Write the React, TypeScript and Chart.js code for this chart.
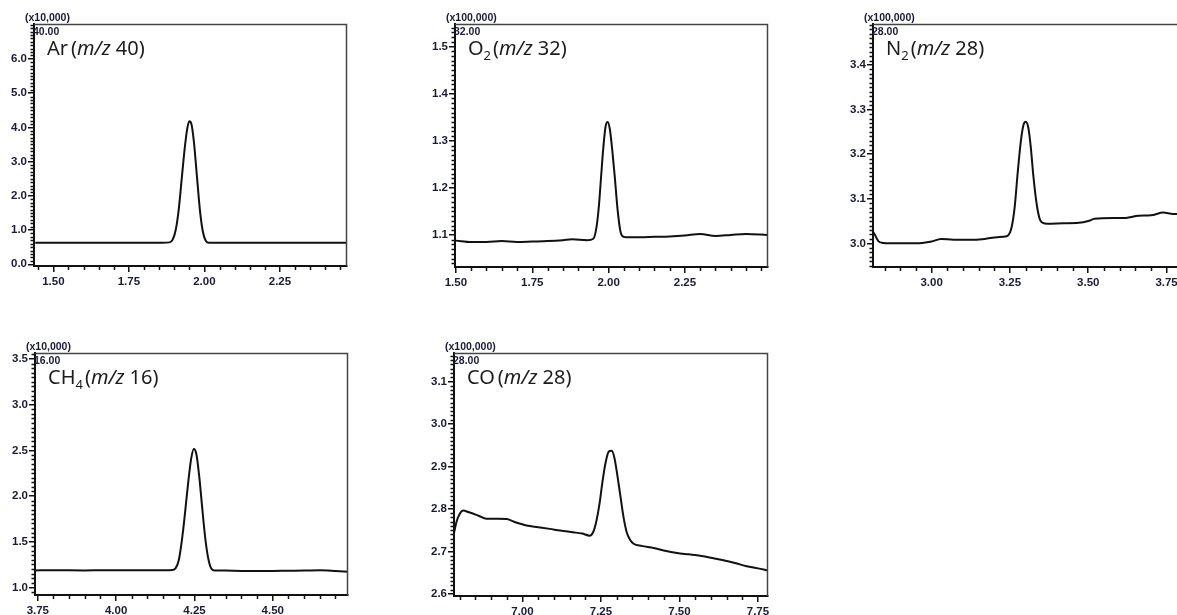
import React, { useEffect, useRef } from "react";
import { Chart, registerables } from "chart.js";

Chart.register(...registerables);

// ---------- DATA ----------
// Ar (m/z 40)
const arTime = [1.44, 1.6, 1.75, 1.86, 1.885, 1.895, 1.905, 1.915, 1.925, 1.935, 1.943, 1.95, 1.957, 1.965, 1.975, 1.985, 1.995, 2.005, 2.015, 2.05, 2.2, 2.35, 2.47];
const arIntensity = [0.63, 0.63, 0.63, 0.63, 0.64, 0.72, 1.0, 1.6, 2.5, 3.4, 3.95, 4.18, 4.1, 3.6, 2.6, 1.6, 0.95, 0.68, 0.63, 0.63, 0.63, 0.63, 0.63];
const arXTicks = [1.5, 1.75, 2.0, 2.25];
const arYTicks = [0, 1, 2, 3, 4, 5, 6];

// O2 (m/z 32)
const o2Time = [1.5, 1.55, 1.6, 1.65, 1.7, 1.75, 1.8, 1.85, 1.88, 1.93, 1.95, 1.96, 1.968, 1.975, 1.982, 1.99, 1.997, 2.004, 2.012, 2.02, 2.03, 2.04, 2.05, 2.065, 2.1, 2.15, 2.2, 2.25, 2.3, 2.35, 2.4, 2.45, 2.52];
const o2Intensity = [1.088, 1.085, 1.085, 1.087, 1.085, 1.086, 1.087, 1.089, 1.091, 1.089, 1.092, 1.115, 1.16, 1.22, 1.28, 1.33, 1.34, 1.325, 1.28, 1.225, 1.15, 1.104, 1.096, 1.095, 1.095, 1.096, 1.097, 1.099, 1.102, 1.098, 1.1, 1.102, 1.1];
const o2XTicks = [1.5, 1.75, 2.0, 2.25];
const o2YTicks = [1.1, 1.2, 1.3, 1.4, 1.5];

// N2 (m/z 28)
const n2Time = [2.81, 2.82, 2.83, 2.845, 2.87, 2.92, 2.97, 3.0, 3.03, 3.07, 3.12, 3.17, 3.21, 3.24, 3.255, 3.265, 3.275, 3.285, 3.293, 3.3, 3.308, 3.316, 3.325, 3.335, 3.345, 3.355, 3.37, 3.42, 3.47, 3.5, 3.52, 3.58, 3.62, 3.66, 3.7, 3.74, 3.77, 3.81];
const n2Intensity = [3.03, 3.018, 3.005, 3.001, 3.0, 3.0, 3.001, 3.004, 3.01, 3.008, 3.008, 3.01, 3.014, 3.016, 3.035, 3.08, 3.16, 3.23, 3.265, 3.273, 3.262, 3.22, 3.15, 3.09, 3.055, 3.046, 3.044, 3.045, 3.046, 3.05, 3.055, 3.057, 3.057, 3.062, 3.063, 3.069, 3.066, 3.067];
const n2XTicks = [3.0, 3.25, 3.5, 3.75];
const n2YTicks = [3.0, 3.1, 3.2, 3.3, 3.4];

// CH4 (m/z 16)
const ch4Time = [3.74, 3.8, 3.85, 3.9, 3.95, 4.0, 4.05, 4.1, 4.15, 4.18, 4.19, 4.2, 4.21, 4.22, 4.23, 4.24, 4.248, 4.256, 4.265, 4.275, 4.285, 4.295, 4.305, 4.315, 4.35, 4.4, 4.45, 4.5, 4.55, 4.6, 4.65, 4.7, 4.74];
const ch4Intensity = [1.185, 1.188, 1.186, 1.185, 1.187, 1.188, 1.186, 1.186, 1.187, 1.19, 1.21, 1.3, 1.52, 1.82, 2.15, 2.42, 2.515, 2.46, 2.22, 1.86, 1.52, 1.3, 1.2, 1.185, 1.183, 1.18, 1.18, 1.18, 1.182, 1.183, 1.188, 1.18, 1.171];
const ch4XTicks = [3.75, 4.0, 4.25, 4.5];
const ch4YTicks = [1.0, 1.5, 2.0, 2.5, 3.0, 3.5];

// CO (m/z 28)
const coTime = [6.782, 6.79, 6.8, 6.811, 6.83, 6.86, 6.885, 6.92, 6.95, 6.98, 7.013, 7.05, 7.087, 7.12, 7.161, 7.19, 7.214, 7.225, 7.235, 7.245, 7.255, 7.265, 7.275, 7.284, 7.293, 7.302, 7.312, 7.322, 7.332, 7.342, 7.354, 7.38, 7.418, 7.45, 7.492, 7.53, 7.566, 7.6, 7.64, 7.68, 7.714, 7.75, 7.782];
const coIntensity = [2.743, 2.77, 2.788, 2.796, 2.792, 2.784, 2.777, 2.777, 2.776, 2.768, 2.761, 2.757, 2.753, 2.749, 2.745, 2.742, 2.737, 2.745, 2.77, 2.81, 2.865, 2.91, 2.935, 2.937, 2.92, 2.88, 2.83, 2.78, 2.745, 2.728, 2.718, 2.713, 2.708, 2.702, 2.696, 2.693, 2.69, 2.685, 2.679, 2.672, 2.665, 2.66, 2.655];
const coXTicks = [7.0, 7.25, 7.5, 7.75];
const coYTicks = [2.6, 2.7, 2.8, 2.9, 3.0, 3.1];

// Titles / annotations
type Part = { text: string; italic?: boolean; sub?: boolean; gap?: number };
const arTitle: Part[] = [{ text: "Ar", gap: 3 }, { text: "(" }, { text: "m/z", italic: true }, { text: " 40)" }];
const o2Title: Part[] = [{ text: "O" }, { text: "2", sub: true, gap: 2 }, { text: "(" }, { text: "m/z", italic: true }, { text: " 32)" }];
const n2Title: Part[] = [{ text: "N" }, { text: "2", sub: true, gap: 2 }, { text: "(" }, { text: "m/z", italic: true }, { text: " 28)" }];
const ch4Title: Part[] = [{ text: "CH" }, { text: "4", sub: true, gap: 2 }, { text: "(" }, { text: "m/z", italic: true }, { text: " 16)" }];
const coTitle: Part[] = [{ text: "CO", gap: 3 }, { text: "(" }, { text: "m/z", italic: true }, { text: " 28)" }];

const multipliers = ["(x10,000)", "(x100,000)", "(x100,000)", "(x10,000)", "(x100,000)"];
const massLabels = ["40.00", "32.00", "28.00", "16.00", "28.00"];

// ---------- LAYOUT ----------
const YW = 40;
const TOP = 26;
const XH = 30;
const RP = 24;

type Panel = {
  xs: number[];
  ys: number[];
  xMin: number;
  xMax: number;
  yMin: number;
  yMax: number;
  xTicks: number[];
  yTicks: number[];
  yDec: number;
  yMinor: number;
  title: Part[];
  mult: string;
  mass: string;
  box: { l: number; t: number; r: number; b: number };
};

const panels: Panel[] = [
  { xs: arTime, ys: arIntensity, xMin: 1.436, xMax: 2.472, yMin: -0.05, yMax: 7.02, xTicks: arXTicks, yTicks: arYTicks, yDec: 1, yMinor: 0.1, title: arTitle, mult: multipliers[0], mass: massLabels[0], box: { l: 34, t: 24, r: 347, b: 266 } },
  { xs: o2Time, ys: o2Intensity, xMin: 1.497, xMax: 2.522, yMin: 1.032, yMax: 1.548, xTicks: o2XTicks, yTicks: o2YTicks, yDec: 1, yMinor: 0.01, title: o2Title, mult: multipliers[1], mass: massLabels[1], box: { l: 455, t: 24, r: 768, b: 267 } },
  { xs: n2Time, ys: n2Intensity, xMin: 2.813, xMax: 3.812, yMin: 2.947, yMax: 3.492, xTicks: n2XTicks, yTicks: n2YTicks, yDec: 1, yMinor: 0.01, title: n2Title, mult: multipliers[2], mass: massLabels[2], box: { l: 873, t: 24, r: 1186, b: 267 } },
  { xs: ch4Time, ys: ch4Intensity, xMin: 3.741, xMax: 4.74, yMin: 0.916, yMax: 3.566, xTicks: ch4XTicks, yTicks: ch4YTicks, yDec: 1, yMinor: 0.05, title: ch4Title, mult: multipliers[3], mass: massLabels[3], box: { l: 35, t: 353, r: 348, b: 595 } },
  { xs: coTime, ys: coIntensity, xMin: 6.782, xMax: 7.782, yMin: 2.595, yMax: 3.167, xTicks: coXTicks, yTicks: coYTicks, yDec: 1, yMinor: 0.01, title: coTitle, mult: multipliers[4], mass: massLabels[4], box: { l: 454, t: 353, r: 768, b: 596 } },
];

const LABEL_COLOR = "#1a1a3a";
const TICK_FONT = { family: "'Liberation Sans', Arial, sans-serif", size: 11.5, weight: "bold" as const };

function minorValues(min: number, max: number, step: number, majors: number[]) {
  const out: number[] = [];
  const start = Math.ceil(min / step - 1e-9);
  const end = Math.floor(max / step + 1e-9);
  for (let i = start; i <= end; i++) {
    const v = i * step;
    if (majors.some((m) => Math.abs(m - v) < step / 10)) continue;
    out.push(v);
  }
  return out;
}

function ChromPanel({ p }: { p: Panel }) {
  const ref = useRef<HTMLCanvasElement | null>(null);
  const w = p.box.r - p.box.l + YW + RP;
  const h = p.box.b - p.box.t + TOP + XH;

  useEffect(() => {
    if (!ref.current) return;
    const deco = {
      id: "deco",
      afterDraw(chart: any) {
        const ctx = chart.ctx as CanvasRenderingContext2D;
        const ca = chart.chartArea;
        const xs = chart.scales.x;
        const ys = chart.scales.y;
        ctx.save();
        // frame top & right
        ctx.strokeStyle = "#444";
        ctx.lineWidth = 1.5;
        ctx.beginPath();
        ctx.moveTo(ca.left, ca.top + 0.5);
        ctx.lineTo(ca.right - 0.5, ca.top + 0.5);
        ctx.lineTo(ca.right - 0.5, ca.bottom);
        ctx.stroke();
        // minor ticks
        ctx.strokeStyle = "#111";
        ctx.lineWidth = 1.5;
        ctx.beginPath();
        for (const v of minorValues(p.xMin, p.xMax, 0.05, p.xTicks)) {
          const px = Math.round(xs.getPixelForValue(v)) + 0.5;
          ctx.moveTo(px, ca.bottom);
          ctx.lineTo(px, ca.bottom + 4);
        }
        for (const v of minorValues(p.yMin, p.yMax, p.yMinor, p.yTicks)) {
          const py = Math.round(ys.getPixelForValue(v)) + 0.5;
          ctx.moveTo(ca.left + 1, py);
          ctx.lineTo(ca.left - 3.5, py);
        }
        ctx.stroke();
        // multiplier + mass label
        ctx.fillStyle = LABEL_COLOR;
        ctx.textBaseline = "middle";
        ctx.textAlign = "left";
        ctx.font = "bold 10.5px 'Liberation Sans', Arial, sans-serif";
        ctx.fillText(p.mult, ca.left - 9, ca.top - 6);
        ctx.font = "bold 10.5px 'Liberation Sans', Arial, sans-serif";
        ctx.fillText(p.mass, ca.left - 1, ca.top + 8);
        // title
        let x = ca.left + 13;
        const base = ca.top + 31;
        ctx.textBaseline = "alphabetic";
        ctx.fillStyle = "#1c1c1c";
        for (const part of p.title) {
          const size = part.sub ? 13 : 20;
          ctx.font = `${part.italic ? "italic " : ""}${size}px 'Noto Sans', 'Liberation Sans', Arial, sans-serif`;
          ctx.fillText(part.text, x, part.sub ? base + 5 : base);
          x += ctx.measureText(part.text).width + (part.gap || 0);
        }
        ctx.restore();
      },
    };

    const chart = new Chart(ref.current, {
      type: "line",
      data: {
        datasets: [
          {
            data: p.xs.map((x, i) => ({ x, y: p.ys[i] })),
            borderColor: "#111",
            borderWidth: 2,
            pointRadius: 0,
            fill: false,
            cubicInterpolationMode: "monotone",
          },
        ],
      },
      options: {
        animation: false,
        responsive: false,
        maintainAspectRatio: false,
        devicePixelRatio: 1,
        events: [],
        layout: { padding: { left: 0, top: TOP, right: RP, bottom: 0 } },
        plugins: { legend: { display: false }, tooltip: { enabled: false }, title: { display: false } },
        scales: {
          x: {
            type: "linear",
            min: p.xMin,
            max: p.xMax,
            afterBuildTicks: (s: any) => {
              s.ticks = p.xTicks.map((v) => ({ value: v }));
            },
            afterFit: (s: any) => {
              s.height = XH;
            },
            ticks: {
              callback: (v: any) => Number(v).toFixed(2),
              font: TICK_FONT,
              color: LABEL_COLOR,
              padding: 3,
              maxRotation: 0,
              autoSkip: false,
            },
            grid: { drawOnChartArea: false, tickLength: 6, color: "#111", lineWidth: 1.5 },
            border: { color: "#111", width: 2 },
          },
          y: {
            type: "linear",
            min: p.yMin,
            max: p.yMax,
            afterBuildTicks: (s: any) => {
              s.ticks = p.yTicks.map((v) => ({ value: v }));
            },
            afterFit: (s: any) => {
              s.width = YW;
            },
            ticks: {
              callback: (v: any) => Number(v).toFixed(p.yDec),
              font: TICK_FONT,
              color: LABEL_COLOR,
              padding: 1,
              autoSkip: false,
            },
            grid: { drawOnChartArea: false, tickLength: 6, color: "#111", lineWidth: 1.5 },
            border: { color: "#111", width: 2 },
          },
        },
      },
      plugins: [deco],
    } as any);
    return () => chart.destroy();
  }, [p]);

  return (
    <canvas
      ref={ref}
      width={w}
      height={h}
      style={{ position: "absolute", left: p.box.l - YW, top: p.box.t - TOP, width: w, height: h }}
    />
  );
}

export default function App() {
  return (
    <div
      style={{
        position: "absolute",
        left: 0,
        top: 0,
        width: 1177,
        height: 615,
        overflow: "hidden",
        background: "#fff",
      }}
    >
      {panels.map((p, i) => (
        <ChromPanel key={i} p={p} />
      ))}
    </div>
  );
}
